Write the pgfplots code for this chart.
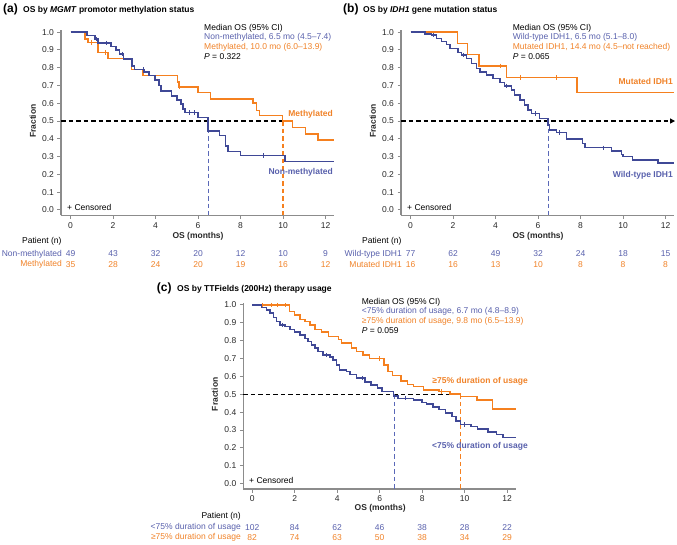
\documentclass[border=0pt]{standalone}
\usepackage{pgfplots}
\pgfplotsset{compat=1.18}
\usepackage{fontspec}
\setmainfont{Liberation Sans}
\usetikzlibrary{arrows.meta}
\definecolor{bluecurve}{RGB}{63,72,150}
\definecolor{bluetxt}{RGB}{88,96,172}
\definecolor{bluedash}{RGB}{90,104,184}
\definecolor{orng}{RGB}{245,128,31}
\definecolor{orngtxt}{RGB}{240,130,40}
\definecolor{axgray}{RGB}{140,140,140}
\definecolor{ticktxt}{RGB}{40,40,40}
\newcommand\fs{\fontsize{8.5}{10}\selectfont}
\pgfplotsset{kmaxis/.style={scale only axis, width=273pt, height=185pt,
  xmin=-0.45, xmax=12.4, ymin=-0.03, ymax=1.01,
  axis lines*=left, axis line style={draw=axgray, line width=1.4pt},
  tick style={draw=axgray, line width=1pt}, major tick length=3.5pt, tick align=outside,
  xtick={0,2,4,6,8,10,12}, ytick={0,0.1,0.2,0.3,0.4,0.5,0.6,0.7,0.8,0.9,1.0},
  y tick label style={/pgf/number format/.cd, fixed, fixed zerofill, precision=1, /tikz/.cd},
  tick label style={font=\fs, text=ticktxt},
  /pgf/number format/assume math mode=true,
  clip=false, anchor=south west},
  blueKM/.style={const plot, bluecurve, line width=1.5pt, mark=none, line join=miter},
  orKM/.style={const plot, orng, line width=1.5pt, mark=none, line join=miter},
  bluecens/.style={only marks, mark=|, mark size=2.2pt, mark options={bluecurve, line width=0.9pt}},
  orcens/.style={only marks, mark=|, mark size=2.2pt, mark options={orng, line width=0.9pt}},
  mdash/.style={line width=1.3pt, dash pattern=on 4.5pt off 3pt}
}
\begin{document}
\begin{tikzpicture}
\useasboundingbox (0,0) rectangle (677pt,-544pt);
% ---------------- Panel (a)
\begin{axis}[kmaxis, at={(61pt,-215.3pt)}]
\addplot[mdash, black] coordinates {(-0.45,0.5) (10,0.5)};
\addplot[mdash, bluedash] coordinates {(6.5,0.5) (6.5,-0.03)};
\addplot[mdash, orng] coordinates {(10,0.5) (10,-0.03)};
\addplot[orKM] coordinates {(0,1.0) (0.68,0.96) (0.83,0.942) (1.3,0.886) (1.77,0.852) (2.87,0.79) (3.42,0.757) (5.03,0.72) (5.1,0.69) (6.0,0.66) (6.58,0.625) (8.59,0.60) (8.75,0.56) (8.9,0.53) (9.97,0.50) (10.44,0.465) (11.07,0.427) (11.65,0.393) (12.4,0.393)};
\addplot[blueKM] coordinates {(0,1.0) (0.78,0.98) (1.15,0.96) (1.3,0.94) (1.9,0.92) (2.15,0.90) (2.3,0.876) (2.5,0.85) (2.9,0.81) (3.0,0.79) (3.45,0.775) (3.7,0.755) (3.97,0.73) (4.17,0.70) (4.25,0.67) (4.75,0.64) (5.0,0.618) (5.2,0.595) (5.3,0.567) (5.38,0.547) (6.0,0.52) (6.47,0.445) (7.02,0.42) (7.29,0.36) (7.41,0.33) (8.0,0.307) (10.1,0.272) (12.4,0.272)};
\addplot[orcens] coordinates {(1.0,0.942) (1.66,0.886) (5.14,0.69)};
\addplot[bluecens] coordinates {(1.22,0.96) (1.69,0.94) (2.45,0.876) (3.42,0.79) (5.61,0.547) (5.85,0.547) (9.06,0.307)};
\node[font=\fs\bfseries, text=ticktxt] at (axis cs:6,-0.146) {OS (months)};
\node[font=\fs\bfseries, text=ticktxt, rotate=90] at (axis cs:-1.77,0.5) {Fraction};
\node[font=\fs, anchor=east, inner sep=0pt] at (axis cs:-0.42,-0.178) {Patient (n)};
\node[font=\fs, anchor=east, inner sep=0pt, text=bluetxt] at (axis cs:-0.40,-0.247) {Non-methylated};
\node[font=\fs, anchor=east, inner sep=0pt, text=orngtxt] at (axis cs:-0.40,-0.307) {Methylated};
\node[font=\fs, text=bluetxt] at (axis cs:0,-0.247) {49};
\node[font=\fs, text=bluetxt] at (axis cs:2,-0.247) {43};
\node[font=\fs, text=bluetxt] at (axis cs:4,-0.247) {32};
\node[font=\fs, text=bluetxt] at (axis cs:6,-0.247) {20};
\node[font=\fs, text=bluetxt] at (axis cs:8,-0.247) {12};
\node[font=\fs, text=bluetxt] at (axis cs:10,-0.247) {10};
\node[font=\fs, text=bluetxt] at (axis cs:12,-0.247) {9};
\node[font=\fs, text=orngtxt] at (axis cs:0,-0.307) {35};
\node[font=\fs, text=orngtxt] at (axis cs:2,-0.307) {28};
\node[font=\fs, text=orngtxt] at (axis cs:4,-0.307) {24};
\node[font=\fs, text=orngtxt] at (axis cs:6,-0.307) {20};
\node[font=\fs, text=orngtxt] at (axis cs:8,-0.307) {19};
\node[font=\fs, text=orngtxt] at (axis cs:10,-0.307) {16};
\node[font=\fs, text=orngtxt] at (axis cs:12,-0.307) {12};
\end{axis}
% ---------------- Panel (b)
\begin{axis}[kmaxis, at={(401pt,-215.3pt)}]
\addplot[mdash, black, -{Triangle[length=5pt,width=5pt]}] coordinates {(-0.45,0.5) (12.45,0.5)};
\addplot[mdash, bluedash] coordinates {(6.5,0.5) (6.5,-0.03)};
\addplot[orKM] coordinates {(0,1.0) (2.21,0.936) (2.68,0.875) (3.23,0.81) (4.51,0.745) (7.84,0.66) (12.4,0.66)};
\addplot[blueKM] coordinates {(0,1.0) (0.67,0.99) (0.99,0.983) (1.22,0.965) (1.46,0.946) (1.69,0.93) (1.85,0.907) (2.24,0.884) (2.4,0.87) (2.63,0.852) (2.87,0.824) (3.1,0.796) (3.26,0.777) (3.57,0.758) (3.88,0.74) (4.2,0.717) (4.43,0.698) (4.75,0.674) (4.9,0.645) (5.14,0.617) (5.37,0.59) (5.53,0.562) (5.69,0.543) (6.08,0.515) (6.47,0.478) (6.55,0.45) (6.87,0.436) (7.34,0.40) (8.09,0.375) (8.2,0.35) (9.45,0.332) (9.92,0.313) (10.0,0.30) (10.44,0.28) (11.65,0.263) (12.4,0.263)};
\addplot[orcens] coordinates {(4.25,0.81) (5.19,0.745) (6.87,0.745)};
\addplot[bluecens] coordinates {(1.1,0.983) (2.5,0.87) (4.5,0.698) (5.9,0.543) (7.0,0.436) (9.06,0.35)};
\node[font=\fs\bfseries, text=ticktxt] at (axis cs:6,-0.146) {OS (months)};
\node[font=\fs\bfseries, text=ticktxt, rotate=90] at (axis cs:-1.77,0.5) {Fraction};
\node[font=\fs, anchor=east, inner sep=0pt] at (axis cs:-0.42,-0.178) {Patient (n)};
\node[font=\fs, anchor=east, inner sep=0pt, text=bluetxt] at (axis cs:-0.40,-0.247) {Wild-type IDH1};
\node[font=\fs, anchor=east, inner sep=0pt, text=orngtxt] at (axis cs:-0.40,-0.307) {Mutated IDH1};
\node[font=\fs, text=bluetxt] at (axis cs:0,-0.247) {77};
\node[font=\fs, text=bluetxt] at (axis cs:2,-0.247) {62};
\node[font=\fs, text=bluetxt] at (axis cs:4,-0.247) {49};
\node[font=\fs, text=bluetxt] at (axis cs:6,-0.247) {32};
\node[font=\fs, text=bluetxt] at (axis cs:8,-0.247) {24};
\node[font=\fs, text=bluetxt] at (axis cs:10,-0.247) {18};
\node[font=\fs, text=bluetxt] at (axis cs:12,-0.247) {15};
\node[font=\fs, text=orngtxt] at (axis cs:0,-0.307) {16};
\node[font=\fs, text=orngtxt] at (axis cs:2,-0.307) {16};
\node[font=\fs, text=orngtxt] at (axis cs:4,-0.307) {13};
\node[font=\fs, text=orngtxt] at (axis cs:6,-0.307) {10};
\node[font=\fs, text=orngtxt] at (axis cs:8,-0.307) {8};
\node[font=\fs, text=orngtxt] at (axis cs:10,-0.307) {8};
\node[font=\fs, text=orngtxt] at (axis cs:12,-0.307) {8};
\end{axis}
% ---------------- Panel (c)
\begin{axis}[kmaxis, at={(243.3pt,-489pt)}, xmin=-0.42, width=272.4pt, height=185.8pt]
\addplot[mdash, black] coordinates {(-0.42,0.5) (9.8,0.5)};
\addplot[mdash, bluedash] coordinates {(6.7,0.5) (6.7,-0.03)};
\addplot[mdash, orng] coordinates {(9.8,0.5) (9.8,-0.03)};
\addplot[orKM] coordinates {(0,1.0) (1.75,0.963) (2.0,0.944) (2.24,0.92) (2.48,0.907) (2.71,0.888) (2.95,0.864) (3.26,0.85) (3.58,0.823) (4.05,0.808) (4.2,0.786) (4.67,0.758) (4.9,0.74) (5.22,0.72) (5.53,0.70) (6.2,0.665) (6.4,0.628) (6.6,0.605) (7.0,0.575) (7.3,0.555) (7.6,0.543) (8.07,0.524) (8.8,0.515) (9.3,0.503) (9.8,0.487) (10.58,0.468) (11.3,0.418) (12.4,0.418)};
\addplot[blueKM] coordinates {(0,1.0) (0.44,0.987) (0.68,0.973) (0.84,0.955) (1.0,0.93) (1.15,0.907) (1.31,0.888) (1.55,0.879) (1.78,0.864) (2.0,0.85) (2.24,0.832) (2.48,0.813) (2.63,0.795) (2.79,0.776) (2.95,0.758) (3.1,0.74) (3.34,0.72) (3.65,0.71) (3.8,0.693) (3.96,0.665) (4.1,0.637) (4.43,0.628) (4.59,0.61) (4.9,0.59) (5.3,0.57) (5.6,0.553) (5.9,0.535) (6.1,0.516) (6.65,0.49) (6.85,0.478) (7.6,0.468) (8.0,0.455) (8.2,0.445) (8.5,0.43) (8.8,0.415) (9.1,0.395) (9.4,0.375) (9.6,0.35) (9.8,0.33) (10.3,0.32) (10.6,0.305) (11.1,0.29) (11.5,0.275) (11.8,0.257) (12.4,0.257)};
\addplot[orcens] coordinates {(0.5,1.0) (0.9,1.0) (1.2,1.0) (1.55,1.0) (6.0,0.70) (8.9,0.515)};
\addplot[bluecens] coordinates {(1.4,0.888) (3.5,0.72) (5.2,0.59) (7.2,0.478) (10.0,0.33)};
\node[font=\fs\bfseries, text=ticktxt] at (axis cs:6.02,-0.136) {OS (months)};
\node[font=\fs\bfseries, text=ticktxt, rotate=90] at (axis cs:-1.76,0.5) {Fraction};
\node[font=\fs, anchor=east, inner sep=0pt] at (axis cs:-0.53,-0.181) {Patient (n)};
\node[font=\fs, anchor=east, inner sep=0pt, text=bluetxt] at (axis cs:-0.53,-0.246) {<75\% duration of usage};
\node[font=\fs, anchor=east, inner sep=0pt, text=orngtxt] at (axis cs:-0.53,-0.302) {≥75\% duration of usage};
\node[font=\fs, text=bluetxt] at (axis cs:0,-0.246) {102};
\node[font=\fs, text=bluetxt] at (axis cs:2,-0.246) {84};
\node[font=\fs, text=bluetxt] at (axis cs:4,-0.246) {62};
\node[font=\fs, text=bluetxt] at (axis cs:6,-0.246) {46};
\node[font=\fs, text=bluetxt] at (axis cs:8,-0.246) {38};
\node[font=\fs, text=bluetxt] at (axis cs:10,-0.246) {28};
\node[font=\fs, text=bluetxt] at (axis cs:12,-0.246) {22};
\node[font=\fs, text=orngtxt] at (axis cs:0,-0.302) {82};
\node[font=\fs, text=orngtxt] at (axis cs:2,-0.302) {74};
\node[font=\fs, text=orngtxt] at (axis cs:4,-0.302) {63};
\node[font=\fs, text=orngtxt] at (axis cs:6,-0.302) {50};
\node[font=\fs, text=orngtxt] at (axis cs:8,-0.302) {38};
\node[font=\fs, text=orngtxt] at (axis cs:10,-0.302) {34};
\node[font=\fs, text=orngtxt] at (axis cs:12,-0.302) {29};
\end{axis}
% ---------------- free text
\begin{scope}[every node/.style={inner sep=0pt}]
% (a)
\node[anchor=base west] at (3pt,-12.5pt) {\fontsize{12}{14}\selectfont\bfseries (a)};
\node[anchor=base west] at (23pt,-12.5pt) {\fs\bfseries OS by \textit{MGMT} promotor methylation status};
\node[anchor=west, font=\fs] at (204pt,-28.3pt) {Median OS (95\% CI)};
\node[anchor=west, font=\fs, text=bluetxt] at (204pt,-37.6pt) {Non-methylated, 6.5 mo (4.5–7.4)};
\node[anchor=west, font=\fs, text=orngtxt] at (204pt,-46.9pt) {Methylated, 10.0 mo (6.0–13.9)};
\node[anchor=west, font=\fs] at (204pt,-56.5pt) {\textit{P} = 0.322};
\node[anchor=east, font=\fs\bfseries, text=orngtxt] at (333pt,-114pt) {Methylated};
\node[anchor=east, font=\fs\bfseries, text=bluetxt] at (333pt,-172pt) {Non-methylated};
\node[anchor=west, font=\fs] at (67pt,-207pt) {+ Censored};
% (b)
\node[anchor=base west] at (343pt,-12.5pt) {\fontsize{12}{14}\selectfont\bfseries (b)};
\node[anchor=base west] at (363pt,-12.5pt) {\fs\bfseries OS by \textit{IDH1} gene mutation status};
\node[anchor=west, font=\fs] at (512.7pt,-28.3pt) {Median OS (95\% CI)};
\node[anchor=west, font=\fs, text=bluetxt] at (512.7pt,-37.6pt) {Wild-type IDH1, 6.5 mo (5.1–8.0)};
\node[anchor=west, font=\fs, text=orngtxt] at (512.7pt,-46.9pt) {Mutated IDH1, 14.4 mo (4.5–not reached)};
\node[anchor=west, font=\fs] at (512.7pt,-56.5pt) {\textit{P} = 0.065};
\node[anchor=east, font=\fs\bfseries, text=orngtxt] at (673pt,-81pt) {Mutated IDH1};
\node[anchor=east, font=\fs\bfseries, text=bluetxt] at (673pt,-175pt) {Wild-type IDH1};
\node[anchor=west, font=\fs] at (407pt,-207pt) {+ Censored};
% (c)
\node[anchor=base west] at (156.7pt,-291pt) {\fontsize{12}{14}\selectfont\bfseries (c)};
\node[anchor=base west] at (177pt,-291pt) {\fs\bfseries OS by TTFields (200Hz) therapy usage};
\node[anchor=west, font=\fs] at (361.7pt,-302.3pt) {Median OS (95\% CI)};
\node[anchor=west, font=\fs, text=bluetxt] at (361.7pt,-311.7pt) {<75\% duration of usage, 6.7 mo (4.8–8.9)};
\node[anchor=west, font=\fs, text=orngtxt] at (361.7pt,-320.9pt) {≥75\% duration of usage, 9.8 mo (6.5–13.9)};
\node[anchor=west, font=\fs] at (361.7pt,-331pt) {\textit{P} = 0.059};
\node[anchor=east, font=\fs\bfseries, text=orngtxt] at (528pt,-381.7pt) {≥75\% duration of usage};
\node[anchor=east, font=\fs\bfseries, text=bluetxt] at (528pt,-446pt) {<75\% duration of usage};
\node[anchor=west, font=\fs] at (249pt,-480pt) {+ Censored};
\end{scope}
\end{tikzpicture}
\end{document}
